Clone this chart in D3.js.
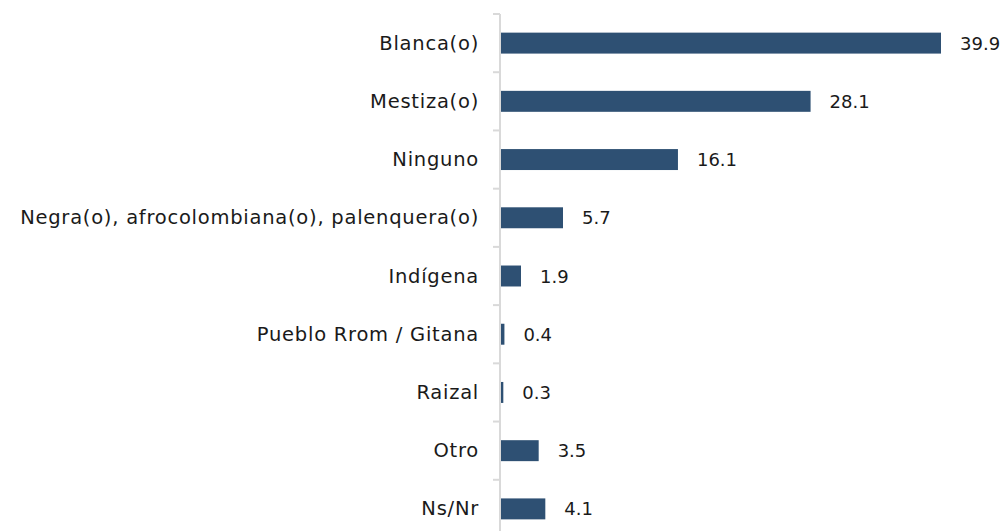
<!DOCTYPE html>
<html>
<head>
<meta charset="utf-8">
<script src="https://cdn.jsdelivr.net/npm/d3@7"></script>
<style>
  body { margin: 0; background: #fff; }
  text { font-family: "DejaVu Sans", sans-serif; fill: #1a1a1a; }
</style>
</head>
<body>
<svg id="chart" width="1003" height="531"></svg>
<script>
const categories = ["Blanca(o)", "Mestiza(o)", "Ninguno",
  "Negra(o), afrocolombiana(o), palenquera(o)", "Indígena",
  "Pueblo Rrom / Gitana", "Raizal", "Otro", "Ns/Nr"];
const values = [39.9, 28.1, 16.1, 5.7, 1.9, 0.4, 0.3, 3.5, 4.1];

const svg = d3.select("#chart");
const x0 = 500;

// scales
const x = d3.scaleLinear()
    .domain([0, 39.9])
    .range([x0, 941]);

const y = d3.scaleBand()
    .domain(categories)
    .range([14, 538])
    .paddingInner(0.64)
    .paddingOuter(0.32);

const step = y.step();

// axis line and tick marks between categories
svg.append("line")
    .attr("x1", x0).attr("x2", x0)
    .attr("y1", 14).attr("y2", 538)
    .attr("stroke", "#d9d9d9")
    .attr("stroke-width", 2);

svg.selectAll(".tick")
    .data(d3.range(categories.length + 1))
    .enter()
    .append("line")
    .attr("x1", x0 - 7).attr("x2", x0)
    .attr("y1", d => 14 + d * step)
    .attr("y2", d => 14 + d * step)
    .attr("stroke", "#d9d9d9")
    .attr("stroke-width", 2);

// bars
svg.selectAll(".bar")
    .data(values)
    .enter()
    .append("rect")
    .attr("x", x0 + 1)
    .attr("y", (d, i) => y(categories[i]))
    .attr("width", d => x(d) - x0 - 1)
    .attr("height", y.bandwidth())
    .attr("fill", "#2e5073");

// category labels
svg.selectAll(".cat")
    .data(categories)
    .enter()
    .append("text")
    .attr("x", 479)
    .attr("y", d => y(d) + y.bandwidth() / 2)
    .attr("text-anchor", "end")
    .attr("dominant-baseline", "central")
    .style("font-size", "19.5px")
    .style("letter-spacing", "0.75px")
    .text(d => d);

// value labels
svg.selectAll(".val")
    .data(values)
    .enter()
    .append("text")
    .attr("x", d => x(d) + 19)
    .attr("y", (d, i) => y(categories[i]) + y.bandwidth() / 2)
    .attr("dominant-baseline", "central")
    .style("font-size", "18px")
    .text(d => d.toFixed(1));
</script>
</body>
</html>
